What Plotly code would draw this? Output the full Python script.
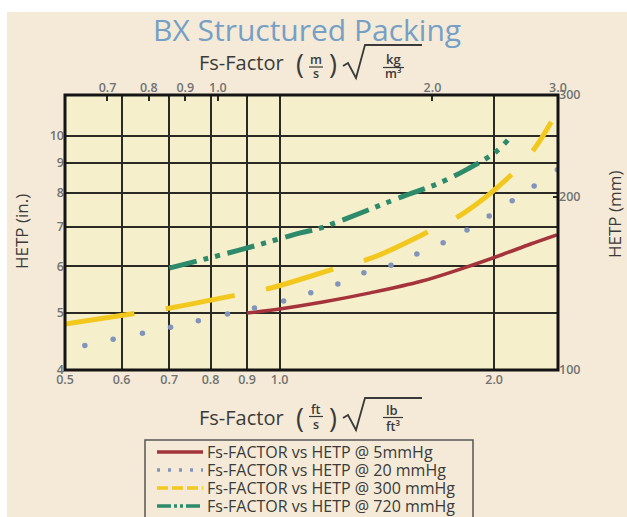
import math
import plotly.graph_objects as go

# BX structured packing: HETP (in.) against Fs-factor in (ft/s)*sqrt(lb/ft3)
fs_5mmhg = [0.90, 1.00, 1.15, 1.34, 1.58, 1.81, 2.05, 2.25, 2.45]
hetp_5mmhg = [5.00, 5.08, 5.22, 5.41, 5.66, 5.96, 6.28, 6.55, 6.79]

fs_20mmhg = [0.533, 0.584, 0.642, 0.703, 0.769, 0.845, 0.922, 1.013, 1.106, 1.207,
             1.313, 1.433, 1.558, 1.696, 1.832, 1.968, 2.120, 2.276, 2.453]
hetp_20mmhg = [4.40, 4.51, 4.62, 4.73, 4.85, 4.98, 5.10, 5.24, 5.41, 5.60,
               5.85, 6.03, 6.30, 6.58, 6.92, 7.31, 7.76, 8.22, 8.76]

fs_300mmhg = [0.50, 0.633, 0.703, 0.887, 0.981, 1.218, 1.356, 1.647, 1.815, 2.127, 2.276, 2.405]
hetp_300mmhg = [4.79, 5.00, 5.10, 5.39, 5.53, 5.99, 6.22, 6.95, 7.40, 8.65, 9.50, 10.56]

fs_720mmhg = [0.70, 0.88, 1.07, 1.14, 1.48, 1.68, 1.84, 2.01, 2.09]
hetp_720mmhg = [5.96, 6.40, 6.84, 6.97, 7.87, 8.33, 8.80, 9.39, 9.84]

series_names = [
    "Fs-FACTOR vs HETP @ 5mmHg",
    "Fs-FACTOR vs HETP @ 20 mmHg",
    "Fs-FACTOR vs HETP @ 300 mmHg",
    "Fs-FACTOR vs HETP @ 720 mmHg",
]

# axis ticks
fs_ticks_ft = [0.5, 0.6, 0.7, 0.8, 0.9, 1.0, 2.0]
fs_ticks_si = [0.7, 0.8, 0.9, 1.0, 2.0, 3.0]
hetp_ticks_in = [4, 5, 6, 7, 8, 9, 10]
hetp_ticks_mm = [100, 200, 300]

FS_TO_SI = 1.2204          # (ft/s)sqrt(lb/ft3) -> (m/s)sqrt(kg/m3)
FS_MIN, FS_MAX_SI = 0.5, 3.0
HETP_MIN, HETP_MAX = 4.0, 11.74

W, H = 627, 517
L, R, T, B = 65, 558, 95, 370   # plot area, pixels


def px(x):
    return (x - L) / (R - L)


def py(y):
    return (B - y) / (B - T)


RED = "#a5333b"
BLUE = "#8194bc"
YELLOW = "#f3c81e"
GREEN = "#2d8a6b"
GRID = "#2b2923"
TICK_GRAY = "#727272"
TEXT = "#3a3a3a"
FONT = "Open Sans"

fig = go.Figure()

fig.add_trace(go.Scatter(x=fs_5mmhg, y=hetp_5mmhg, mode="lines", line_shape="spline",
                         line=dict(color=RED, width=3.5), hoverinfo="skip"))
fig.add_trace(go.Scatter(x=fs_20mmhg, y=hetp_20mmhg, mode="markers",
                         marker=dict(color=BLUE, size=5.5, symbol="circle"), hoverinfo="skip"))
fig.add_trace(go.Scatter(x=fs_300mmhg, y=hetp_300mmhg, mode="lines", line_shape="spline",
                         line=dict(color=YELLOW, width=5, dash="70px,32px"), hoverinfo="skip"))
fig.add_trace(go.Scatter(x=fs_720mmhg, y=hetp_720mmhg, mode="lines", line_shape="spline",
                         line=dict(color=GREEN, width=5, dash="28px,7px,5px,7px,5px,8px"),
                         hoverinfo="skip"))

# secondary axes (SI units) share the data of the primary axes
fig.add_trace(go.Scatter(x=[None], y=[None], xaxis="x2", yaxis="y2"))

eps = 1e-4
tickfont = dict(family=FONT, size=12.5, color=TICK_GRAY, weight=600)

fig.update_layout(
    width=W, height=H,
    margin=dict(l=L, r=W - R, t=T, b=H - B, pad=0, autoexpand=False),
    paper_bgcolor="#f4ead7",
    plot_bgcolor="#f6efcb",
    showlegend=False,
    xaxis=dict(type="log", range=[math.log10(FS_MIN) - eps, math.log10(FS_MAX_SI / FS_TO_SI)],
               tickmode="array", tickvals=fs_ticks_ft,
               ticktext=[f"{v:.1f}" for v in fs_ticks_ft],
               showgrid=True, gridcolor=GRID, gridwidth=1.6, zeroline=False,
               ticks="", tickfont=tickfont, showline=False, automargin=False),
    xaxis2=dict(type="log", overlaying="x", side="top",
                range=[math.log10(FS_MIN * FS_TO_SI), math.log10(FS_MAX_SI) + eps],
                tickmode="array", tickvals=fs_ticks_si,
                ticktext=[f"{v:.1f}" for v in fs_ticks_si],
                showgrid=False, zeroline=False, ticks="inside", ticklen=6,
                tickwidth=1.6, tickcolor=GRID, tickfont=tickfont, automargin=False),
    yaxis=dict(type="log", range=[math.log10(HETP_MIN) - eps, math.log10(HETP_MAX)],
               tickmode="array", tickvals=hetp_ticks_in,
               ticktext=[str(v) for v in hetp_ticks_in],
               showgrid=True, gridcolor=GRID, gridwidth=1.6, zeroline=False,
               ticks="", tickfont=tickfont, automargin=False),
    yaxis2=dict(type="log", overlaying="y", side="right",
                range=[math.log10(100) - eps, math.log10(300) + eps],
                tickmode="array", tickvals=hetp_ticks_mm,
                ticktext=[str(v) for v in hetp_ticks_mm],
                showgrid=False, zeroline=False, ticks="inside", ticklen=5,
                tickwidth=1.6, tickcolor=GRID, tickfont=tickfont, automargin=False),
)

shapes = [
    # white strips round the beige panel
    dict(type="rect", xref="paper", yref="paper", x0=px(0), x1=px(W), y0=py(12), y1=py(0),
         line_width=0, fillcolor="white", layer="below"),
    dict(type="rect", xref="paper", yref="paper", x0=px(0), x1=px(7), y0=py(H), y1=py(0),
         line_width=0, fillcolor="white", layer="below"),
    # plot frame
    dict(type="rect", xref="paper", yref="paper", x0=0, x1=1, y0=0, y1=1,
         line=dict(color="#141414", width=3), layer="above"),
]


def radical(y_top, y_mid, y_bot):
    xs = [343, 348, 356, 365, 422]
    ys = [y_mid, y_mid - 3, y_bot, y_top, y_top]
    path = "M " + " L ".join(f"{px(x):.5f},{py(y):.5f}" for x, y in zip(xs, ys))
    return dict(type="path", xref="paper", yref="paper", path=path,
                line=dict(color=TEXT, width=1.8))


def hline(x0, x1, y, color=TEXT, width=1.2, dash="solid"):
    return dict(type="line", xref="paper", yref="paper", x0=px(x0), x1=px(x1),
                y0=py(y), y1=py(y), line=dict(color=color, width=width, dash=dash))


shapes += [radical(45, 66, 78), hline(309, 323, 67), hline(383, 404, 67.5)]
shapes += [radical(398, 418, 430), hline(309, 323, 416.5), hline(383, 403, 417.5)]

# legend box with keys
legend_rows = [452, 470, 488, 506]
legend_keys = [
    dict(color=RED, width=3.5, dash="solid"),
    dict(color=BLUE, width=3.5, dash="3px,8px"),
    dict(color=YELLOW, width=3.5, dash="11px,4px"),
    dict(color=GREEN, width=3.5, dash="14px,3px,3px,3px,3px,3px"),
]
shapes.append(dict(type="rect", xref="paper", yref="paper", x0=px(145), x1=px(473),
                   y0=py(530), y1=py(440), line=dict(color="#555555", width=1.5)))
for row, key in zip(legend_rows, legend_keys):
    shapes.append(hline(157, 203, row, **key))
fig.update_layout(shapes=shapes)


def label(text, x, y, size, color=TEXT, angle=0, weight=None, anchor="center"):
    f = dict(family=FONT, size=size, color=color)
    if weight:
        f["weight"] = weight
    fig.add_annotation(text=text, x=px(x), y=py(y), xref="paper", yref="paper",
                       xanchor=anchor, yanchor="middle", showarrow=False,
                       textangle=angle, font=f)


for row, name in zip(legend_rows, series_names):
    label(name, 205, row, 16, anchor="left")

label("BX Structured Packing", 307, 29, 30, color="#769fc6", weight=500)

# top axis title: Fs-Factor (m/s) sqrt(kg/m3)
label("Fs-Factor", 241, 63, 20)
label("(", 300, 64, 27)
label(")", 333, 64, 27)
label("m", 316, 59, 12.5, weight=600)
label("s", 316, 74, 12.5, weight=600)
label("kg", 393, 59, 13, weight=600)
label("m³", 393, 74, 12.5, weight=600)

# bottom axis title: Fs-Factor (ft/s) sqrt(lb/ft3)
label("Fs-Factor", 241, 417, 20)
label("(", 300, 417, 27)
label(")", 333, 417, 27)
label("ft", 316, 409, 12.5, weight=600)
label("s", 316, 424, 12.5, weight=600)
label("lb", 392, 410, 13, weight=600)
label("ft³", 393, 426, 12.5, weight=600)

label("HETP (in.)", 21, 232, 17, angle=-90)
label("HETP (mm)", 614, 214, 17, angle=-90)

fig.write_html("out.html")
